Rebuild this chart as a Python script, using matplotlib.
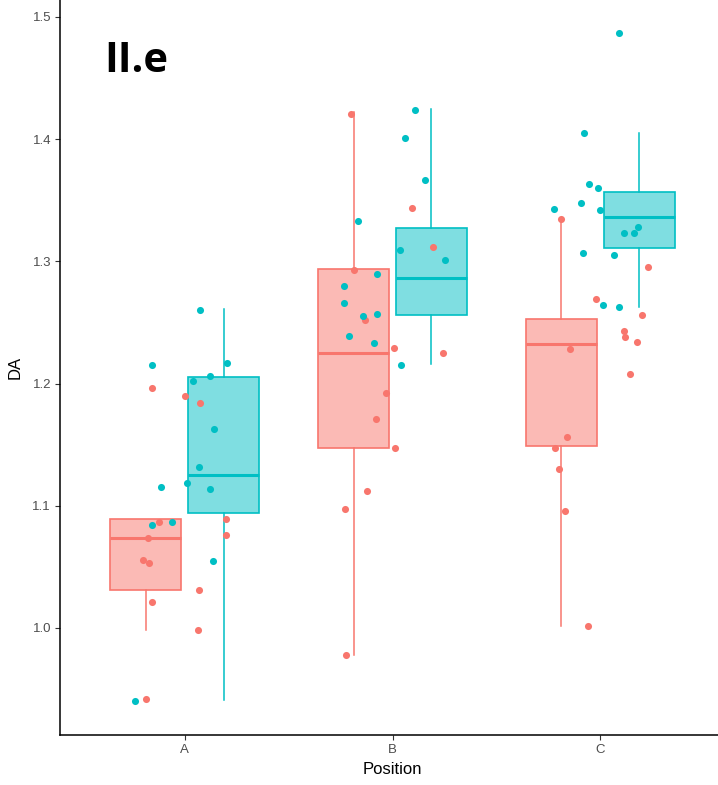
import matplotlib.pyplot as plt

plt.rcParams['font.family'] = ['Liberation Sans', 'DejaVu Sans']

posiciones = ['A', 'B', 'C']
rojo = '#F8766D'
turquesa = '#00BFC4'

# estadisticos de las cajas (q1, mediana, q3, bigotes)
rojo_q1 = [1.031, 1.147, 1.149]
rojo_med = [1.074, 1.225, 1.232]
rojo_q3 = [1.089, 1.294, 1.253]
rojo_lo = [0.998, 0.978, 1.002]
rojo_hi = [1.089, 1.422, 1.335]

turq_q1 = [1.094, 1.256, 1.311]
turq_med = [1.125, 1.286, 1.336]
turq_q3 = [1.205, 1.327, 1.357]
turq_lo = [0.941, 1.216, 1.263]
turq_hi = [1.261, 1.425, 1.405]

# puntos con jitter
rojo_x = [-0.155, 0.001, 0.075, -0.122, -0.178, -0.202, -0.172, 0.197, 0.197, 0.071, -0.155, 0.064, -0.184,
          0.801, 1.095, 1.196, 0.813, 0.868, 1.009, 0.968, 0.919, 1.013, 0.878, 0.773, 1.243, 0.778,
          1.812, 2.229, 1.979, 2.200, 2.113, 2.119, 2.176, 1.853, 2.143, 1.842, 1.781, 1.799, 1.828, 1.939]
rojo_y = [1.196, 1.190, 1.184, 1.087, 1.074, 1.056, 1.053, 1.089, 1.076, 1.031, 1.021, 0.998, 0.942,
          1.421, 1.344, 1.312, 1.293, 1.252, 1.229, 1.192, 1.171, 1.147, 1.112, 1.097, 1.225, 0.978,
          1.335, 1.295, 1.269, 1.256, 1.243, 1.238, 1.234, 1.228, 1.208, 1.156, 1.147, 1.130, 1.096, 1.002]

turq_x = [0.075, -0.155, 0.202, 0.122, 0.042, 0.139, 0.071, 0.013, -0.115, 0.122, -0.155, -0.063, 0.135, -0.237,
          1.108, 1.061, 1.154, 0.833, 1.038, 1.255, 0.925, 0.767, 0.767, 0.860, 0.925, 0.789, 0.913, 1.043,
          2.088, 1.921, 1.944, 1.990, 1.776, 1.908, 1.997, 2.182, 2.113, 2.164, 1.915, 2.066, 2.014, 2.088]
turq_y = [1.260, 1.215, 1.217, 1.206, 1.202, 1.163, 1.132, 1.119, 1.115, 1.114, 1.084, 1.087, 1.055, 0.940,
          1.424, 1.401, 1.367, 1.333, 1.309, 1.301, 1.290, 1.280, 1.266, 1.255, 1.257, 1.239, 1.233, 1.215,
          1.487, 1.405, 1.363, 1.360, 1.343, 1.348, 1.342, 1.328, 1.323, 1.323, 1.307, 1.305, 1.264, 1.263]

fig = plt.figure(figsize=(7.18, 7.85), dpi=100)
ax = fig.add_axes([60 / 718, 50 / 785, 665 / 718, 735 / 785])


def cajas(q1, med, q3, lo, hi, desplaz, color):
    stats = []
    for i in range(len(posiciones)):
        stats.append({'q1': q1[i], 'med': med[i], 'q3': q3[i], 'whislo': lo[i], 'whishi': hi[i], 'fliers': []})
    pos = [i + desplaz for i in range(len(posiciones))]
    ax.bxp(stats, positions=pos, widths=0.34, showcaps=False, patch_artist=True,
           boxprops=dict(facecolor=color, edgecolor=color, linewidth=1.2),
           whiskerprops=dict(color=color, linewidth=1.1),
           medianprops=dict(color=color, linewidth=2.2), manage_ticks=False)


cajas(rojo_q1, rojo_med, rojo_q3, rojo_lo, rojo_hi, -0.1875, rojo)
cajas(turq_q1, turq_med, turq_q3, turq_lo, turq_hi, 0.1875, turquesa)
for p in ax.patches:
    p.set_facecolor(p.get_edgecolor()[:3] + (0.5,))

ax.scatter(rojo_x, rojo_y, s=26, color=rojo, zorder=5, linewidths=0)
ax.scatter(turq_x, turq_y, s=26, color=turquesa, zorder=5, linewidths=0)

ax.set_xlim(-0.6, 2.6)
ax.set_ylim(0.9124, 1.5139)
ax.set_xticks(range(len(posiciones)))
ax.set_xticklabels(posiciones)
ax.set_yticks([1.0, 1.1, 1.2, 1.3, 1.4, 1.5])
ax.set_yticklabels(['1.0', '1.1', '1.2', '1.3', '1.4', '1.5'])
ax.tick_params(colors='#333333', labelcolor='#4D4D4D', labelsize=9.5, length=3.5, width=0.8, pad=3)
ax.spines['top'].set_visible(False)
ax.spines['right'].set_visible(False)
ax.spines['left'].set_linewidth(1.1)
ax.spines['bottom'].set_linewidth(1.1)
ax.set_xlabel('Position', fontsize=12, labelpad=4)
ax.set_ylabel('DA', fontsize=12, labelpad=7)

ax.text(-0.385, 1.455, 'II.e', fontsize=30, fontweight='bold', family='Open Sans', va='baseline')

plt.savefig('out.png')
